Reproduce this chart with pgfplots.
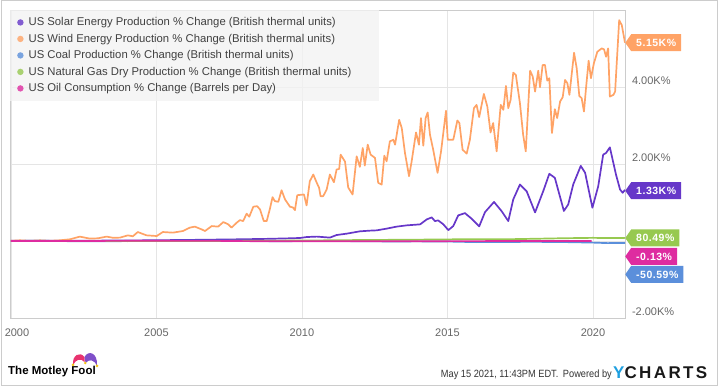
\documentclass[border=0pt]{standalone}
\usepackage{fontspec}
\setmainfont{Liberation Sans}
\usepackage{graphicx}
\usepackage{pgfplots}
\pgfplotsset{compat=1.18}
\usetikzlibrary{shapes.symbols}
\definecolor{solar}{HTML}{6637C9}
\definecolor{wind}{HTML}{FFA366}
\definecolor{coal}{HTML}{5B8FDB}
\definecolor{gas}{HTML}{97C950}
\definecolor{oil}{HTML}{DE2CA0}
\definecolor{ycblue}{HTML}{1E9FE0}
\definecolor{fpink}{HTML}{E8336F}
\definecolor{fpurple}{HTML}{7F4FC9}
\definecolor{fyellow}{HTML}{F5C518}
\begin{document}
\begin{tikzpicture}[x=1pt,y=1pt,
  tag/.style={signal, signal to=west, signal pointer angle=110, anchor=west,
    text=white, font=\bfseries\fontsize{10.5}{12}\selectfont\addfontfeatures{LetterSpace=5},
    minimum height=17pt, inner xsep=5pt, inner ysep=0pt, text height=7.6pt, text depth=0pt}]
\begin{axis}[at={(0,0)}, anchor=south west,
  scale only axis, width=615pt, height=308pt,
  xmin=1999.97, xmax=2021.1, ymin=-2000, ymax=6000,
  axis line style={draw=black!20, line width=0.8pt},
  grid=major, major grid style={draw=black!10, line width=0.7pt},
  xtick={2000,2005,2010,2015,2020},
  xticklabels={\hphantom{00}2000,2005,2010,2015,2020},
  ytick={-2000,0,2000,4000},
  yticklabels={-2.00K\%,,2.00K\%,4.00K\%},
  yticklabel pos=right,
  tick style={draw=none},
  ticklabel style={font=\fontsize{11}{13}\selectfont, text=black!60},
  xticklabel style={yshift=-7pt},
  yticklabel style={anchor=base west, xshift=3.5pt, yshift=2pt},
  legend cell align=left,
  legend style={at={(0,1)}, anchor=north west, draw=none, fill=black!5, fill opacity=0.8, text opacity=1,
    inner xsep=7pt, inner ysep=4pt, column sep=4pt, row sep=0pt,
    font=\fontsize{11.3}{13}\selectfont, text=black!75,
    nodes={inner xsep=1pt, inner ysep=3.4pt}},
  legend image code/.code={\path[#1, draw=none, fill] (0pt,0pt) circle (3.2pt);},
  every axis plot/.append style={line width=1.7pt, mark=none, line join=round},
]
\addplot[color=solar] coordinates {
(2000.00,5) (2003.06,10) (2004.78,18) (2006.49,31) (2007.87,44) (2008.90,57) (2009.59,70)
(2009.93,78) (2010.16,103) (2010.51,114) (2010.96,88) (2011.19,155) (2011.54,191) (2011.99,251)
(2012.34,269) (2012.57,277) (2012.91,321) (2013.25,373) (2013.60,406) (2014.06,432) (2014.29,561)
(2014.46,613) (2014.57,517) (2014.68,536) (2014.86,432) (2015.03,282) (2015.20,388) (2015.37,665)
(2015.60,724) (2015.83,579) (2016.09,380) (2016.29,750) (2016.60,1014) (2016.86,776) (2017.09,517)
(2017.26,1079) (2017.49,1467) (2017.72,1294) (2018.01,742) (2018.29,1294) (2018.50,1746) (2018.69,1640)
(2019.00,781) (2019.15,949) (2019.32,1467) (2019.58,1951) (2019.73,1770) (2019.98,864) (2020.18,1423)
(2020.35,2243) (2020.45,2287) (2020.58,2432) (2020.70,2028) (2020.79,1726) (2020.93,1337) (2021.02,1252)
(2021.10,1330)};
\addlegendentry{US Solar Energy Production \% Change (British thermal units)}
\addplot[color=wind] coordinates {
(2000.00,5) (2000.31,18) (2000.65,5) (2001.00,18) (2001.34,5) (2001.68,18) (2002.03,44) (2002.37,114)
(2002.71,62) (2002.99,70) (2003.29,114) (2003.51,83) (2003.75,88) (2004.02,147) (2004.19,122) (2004.36,233)
(2004.66,147) (2005.01,129) (2005.22,233) (2005.57,217) (2005.91,259) (2006.15,347) (2006.32,373)
(2006.55,303) (2006.67,259) (2006.90,388) (2007.12,373) (2007.30,492) (2007.47,432) (2007.58,347)
(2007.76,476) (2007.87,543) (2007.98,517) (2008.10,709) (2008.19,631) (2008.33,890) (2008.46,905)
(2008.56,820) (2008.69,517) (2008.79,517) (2008.90,838) (2008.99,1138) (2009.07,1035) (2009.19,1019)
(2009.30,1319) (2009.42,1079) (2009.59,890) (2009.69,872) (2009.76,802) (2009.84,1190) (2010.07,1208)
(2010.16,924) (2010.27,1552) (2010.39,1726) (2010.51,1511) (2010.59,1381) (2010.64,1164) (2010.73,1164)
(2010.85,1337) (2010.96,1726) (2011.10,1526) (2011.19,1855) (2011.28,1873) (2011.33,2243) (2011.48,2062)
(2011.59,1389) (2011.74,1208) (2011.88,2199) (2011.99,1925) (2012.09,2416) (2012.16,1958) (2012.26,2502)
(2012.36,2243) (2012.51,2158) (2012.62,1511) (2012.74,1467) (2012.83,2217) (2012.91,2070) (2013.02,2587)
(2013.14,2631) (2013.20,2502) (2013.34,3148) (2013.43,2934) (2013.54,2287) (2013.68,1682) (2013.77,2070)
(2013.92,2820) (2014.02,2502) (2014.09,3192) (2014.17,2476) (2014.25,3192) (2014.32,3337) (2014.40,2760)
(2014.51,2372) (2014.66,1770) (2014.78,2328) (2014.95,3381) (2015.01,2631) (2015.20,2631) (2015.34,3130)
(2015.41,3063) (2015.52,2372) (2015.66,2269) (2015.77,2631) (2015.91,3451) (2016.00,3536) (2016.09,3218)
(2016.25,3821) (2016.37,3492) (2016.48,2820) (2016.57,3063) (2016.69,2328) (2016.83,3536) (2016.92,3407)
(2017.01,4028) (2017.09,3451) (2017.17,3666) (2017.26,4372) (2017.35,4313) (2017.49,3580) (2017.60,2760)
(2017.69,2328) (2017.84,4424) (2017.93,4269) (2018.01,3881) (2018.12,4424) (2018.18,3994) (2018.27,4571)
(2018.35,4571) (2018.43,4165) (2018.50,4227) (2018.59,2804) (2018.69,3425) (2018.77,3192) (2018.87,3622)
(2018.96,3736) (2019.04,4183) (2019.12,4098) (2019.19,3795) (2019.35,4889) (2019.44,4486) (2019.53,3769)
(2019.61,3710) (2019.69,3363) (2019.76,3968) (2019.85,4682) (2019.93,4227) (2020.03,4615) (2020.15,4915)
(2020.30,5003) (2020.38,4977) (2020.45,4786) (2020.52,5003) (2020.58,3751) (2020.70,3795) (2020.76,3881)
(2020.90,5735) (2020.99,5606) (2021.10,5151)};
\addlegendentry{US Wind Energy Production \% Change (British thermal units)}
\addplot[color=coal] coordinates {
(2000.00,0) (2001.0,8) (2002.0,-5) (2003.0,-8) (2004.0,-3) (2005.0,2) (2006.0,6) (2007.0,4) (2008.0,8)
(2009.0,-6) (2010.0,-3) (2011.0,0) (2012.0,-6) (2013.0,-12) (2014.0,-10) (2015.0,-14) (2016.0,-30)
(2017.0,-25) (2018.0,-22) (2019.0,-28) (2020.0,-42) (2020.5,-55) (2021.1,-50.59)};
\addlegendentry{US Coal Production \% Change (British thermal units)}
\addplot[color=gas] coordinates {
(2000.00,0) (2002.0,-2) (2004.0,-4) (2006.0,-3) (2008.0,6) (2010.0,12) (2012.0,25) (2014.0,35)
(2015.5,45) (2017.0,45) (2018.0,58) (2019.0,72) (2020.0,82) (2020.5,76) (2021.1,80.49)};
\addlegendentry{US Natural Gas Dry Production \% Change (British thermal units)\hspace*{20pt}}
\addplot[color=oil] coordinates {
(2000.00,0) (2001.0,-1) (2002.0,1) (2003.0,2) (2004.0,4) (2005.0,5) (2006.0,3) (2007.0,4) (2008.0,-3)
(2009.0,-8) (2010.0,-6) (2011.0,-7) (2012.0,-9) (2013.0,-7) (2014.0,-6) (2015.0,-4) (2016.0,-3)
(2017.0,-2) (2018.0,0) (2019.0,1) (2019.95,-0.13)};
\addlegendentry{US Oil Consumption \% Change (Barrels per Day)\rule[-8pt]{0pt}{0pt}}
\coordinate (tw) at (axis cs:2021.1,5150);
\coordinate (ts) at (axis cs:2021.1,1306);
\coordinate (tg) at (axis cs:2021.1,78);
\coordinate (to) at (axis cs:2021.1,-400);
\coordinate (tc) at (axis cs:2021.1,-867);
\end{axis}
\node[tag, fill=wind] at (tw) {5.15K\%};
\node[tag, fill=solar] at (ts) {1.33K\%};
\node[tag, fill=gas] at (tg) {80.49\%};
\node[tag, fill=oil] at (to) {-0.13\%};
\node[tag, fill=coal] at (tc) {-50.59\%};
% footer
\node[anchor=base west, inner sep=0pt, font=\bfseries\fontsize{11.5}{12}\selectfont] at (-2,-57) {The Motley Fool};
\fill[fpink] (63,-47) .. controls (62,-37) and (70,-33) .. (74.5,-39) -- (74.5,-44) .. controls (71,-40) and (66,-41) .. (63,-47) -- cycle;
\fill[fpurple] (74.5,-39) .. controls (78,-32) and (88,-34) .. (87,-48) .. controls (84,-41) and (79,-41) .. (75.5,-45) -- cycle;
\fill[fyellow] (63,-47) circle (1.5) (75.3,-45) circle (1.4) (87,-48) circle (1.5);
\node[anchor=base east, inner sep=0pt, text=black!80] at (602,-59.7) {\scalebox{0.88}[1]{\fontsize{10.5}{12}\selectfont May 15 2021, 11:43PM EDT.\enspace Powered by}};
\node[anchor=base west, inner sep=0pt, font=\bfseries\fontsize{17}{18}\selectfont\addfontfeatures{LetterSpace=14}, text=black!90] at (603,-61) {\textcolor{ycblue}{Y}CHARTS};
% frame
\draw[black!20, line width=1pt] (-9,317) rectangle (707,-68);
\pgfresetboundingbox
\path[use as bounding box] (-10,-69) rectangle (710,318);
\end{tikzpicture}
\end{document}
